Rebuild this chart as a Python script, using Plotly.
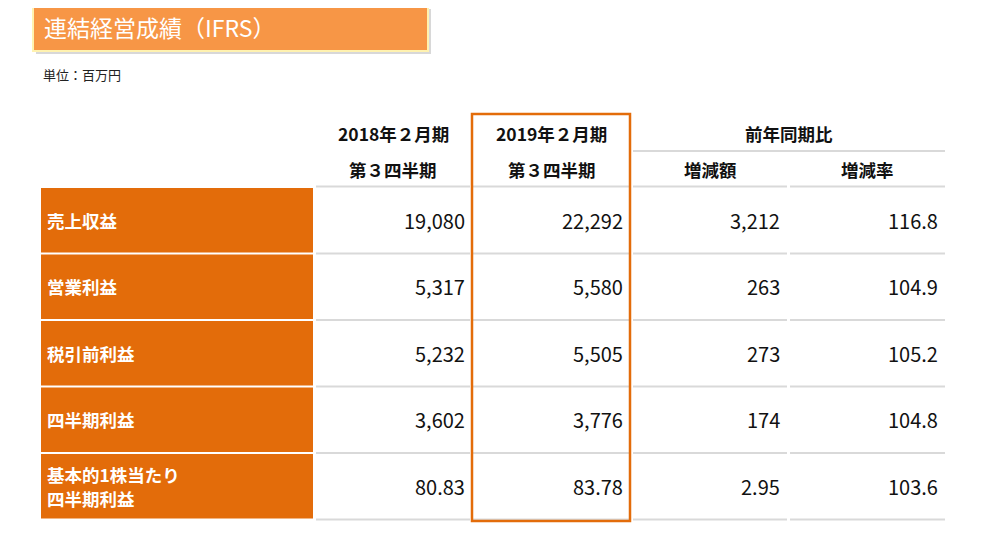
import plotly.graph_objects as go

title = "連結経営成績（IFRS）"
unit = "単位：百万円"
row_labels = ["売上収益", "営業利益", "税引前利益", "四半期利益", "基本的1株当たり<br>四半期利益"]
prev_year = ["19,080", "5,317", "5,232", "3,602", "80.83"]
this_year = ["22,292", "5,580", "5,505", "3,776", "83.78"]
change_amt = ["3,212", "263", "273", "174", "2.95"]
change_pct = ["116.8", "104.9", "105.2", "104.8", "103.6"]
head1 = ["2018年２月期", "2019年２月期"]
head2 = ["第３四半期", "第３四半期", "増減額", "増減率"]
head_group = "前年同期比"

ORANGE = "#E36C0A"
GREY = "#D9D9D9"
FONT = "Noto Sans CJK JP"

fig = go.Figure()
shapes = []
ann = []

# title box
shapes.append(dict(type="rect", x0=36, y0=8, x1=431, y1=53, fillcolor="#D8D8D8", line_width=0, layer="below"))
shapes.append(dict(type="rect", x0=33, y0=5, x1=428, y1=50, fillcolor="#F79646",
                   line=dict(color="#FFF2B0", width=2)))
ann.append(dict(x=42, y=26, text=title, xanchor="left", font=dict(size=23, color="white", family=FONT)))
ann.append(dict(x=41, y=73, text=unit, xanchor="left", font=dict(size=13, color="#222", family=FONT)))

# column geometry
col_left = [316, 473, 633, 790]
col_right = [470, 630, 787, 945]
val_right = [467, 625, 782, 940]
centers = [(l + r) / 2 for l, r in zip(col_left, col_right)]

for i, h in enumerate(head1):
    ann.append(dict(x=centers[i], y=132, text="<b>" + h + "</b>", font=dict(size=17.5, color="#111", family=FONT)))
ann.append(dict(x=(col_left[2] + col_right[3]) / 2, y=132, text="<b>" + head_group + "</b>",
                font=dict(size=17.5, color="#111", family=FONT)))
shapes.append(dict(type="line", x0=col_left[2], x1=col_right[3], y0=150, y1=150, line=dict(color=GREY, width=2)))
for i, h in enumerate(head2):
    ann.append(dict(x=centers[i], y=168, text="<b>" + h + "</b>", font=dict(size=17.5, color="#111", family=FONT)))
for l, r in zip(col_left, col_right):
    shapes.append(dict(type="line", x0=l, x1=r, y0=185.5, y1=185.5, line=dict(color=GREY, width=2)))

row_top = 187
row_h = 66.5
cols = [prev_year, this_year, change_amt, change_pct]
for k, lab in enumerate(row_labels):
    y0 = row_top + k * row_h
    y1 = y0 + row_h - 2
    ym = (y0 + y1) / 2
    shapes.append(dict(type="rect", x0=41, x1=313, y0=y0, y1=y1, fillcolor=ORANGE, line_width=0))
    lines = lab.split("<br>")
    for j, part in enumerate(lines):
        ly = ym + (j - (len(lines) - 1) / 2) * 24
        ann.append(dict(x=45, y=ly, text="<b>" + part + "</b>", xanchor="left", align="left",
                        font=dict(size=17.5, color="white", family=FONT)))
    for c, vals in enumerate(cols):
        ann.append(dict(x=val_right[c], y=ym, text=vals[k], xanchor="right",
                        font=dict(size=20, color="#111", family=FONT)))
        shapes.append(dict(type="line", x0=col_left[c], x1=col_right[c], y0=y1 + 1, y1=y1 + 1,
                           line=dict(color=GREY, width=2)))

# highlight this year column
shapes.append(dict(type="rect", x0=472, x1=630, y0=113, y1=520, line=dict(color=ORANGE, width=2.5)))

for a in ann:
    a.update(xref="x", yref="y", showarrow=False, yanchor="middle")

# page body margin shifts the plot by ~8px, so offset the ranges
fig.update_layout(
    width=989, height=535, margin=dict(l=0, r=0, t=0, b=0),
    plot_bgcolor="white", paper_bgcolor="white",
    xaxis=dict(range=[8, 997], visible=False),
    yaxis=dict(range=[542, 7], visible=False),
    shapes=shapes, annotations=ann, showlegend=False,
)
fig.write_html("out.html")
